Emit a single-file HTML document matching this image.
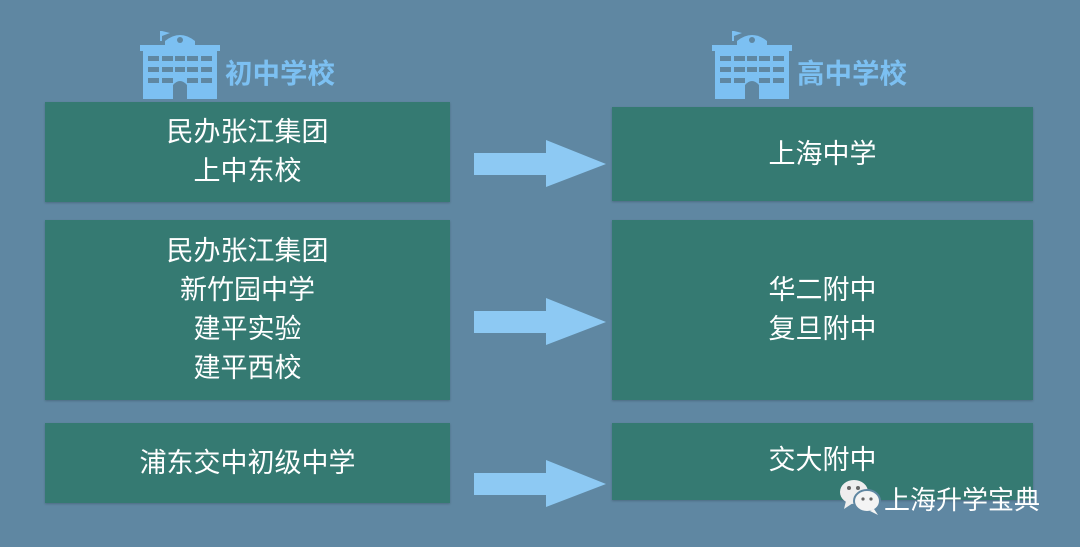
<!DOCTYPE html>
<html><head><meta charset="utf-8"><style>
body{margin:0;width:1080px;height:547px;background:#5f87a2;position:relative;overflow:hidden;font-family:"Liberation Sans","Noto Sans CJK SC",sans-serif}
.b{position:absolute;background:#357a72;color:#fff;font-size:27px;line-height:39px;display:flex;align-items:center;justify-content:center;text-align:center;box-shadow:0 1px 2px rgba(0,0,0,.2)}
.lbl{position:absolute;color:#7cc0f2;font-size:27.5px;font-weight:bold}
.ar{position:absolute}
</style></head><body>
<svg width="80" height="72" style="position:absolute;left:140px;top:27px" viewBox="0 0 80 72">
<g fill="#7cc0f2"><rect x="20" y="4" width="2" height="10"/><polygon points="22,4 30,6 22,9"/>
<path d="M25 14 Q40 2 55 14 L55 18 L25 18Z"/><rect x="0" y="18" width="80" height="6"/><rect x="3" y="24" width="74" height="48"/></g>
<g fill="#5f87a2"><circle cx="40" cy="13" r="3"/>
<rect x="8" y="29" width="11" height="5"/><rect x="22" y="29" width="11" height="5"/><rect x="47" y="29" width="11" height="5"/><rect x="61" y="29" width="11" height="5"/><rect x="35" y="29" width="10" height="5"/>
<rect x="8" y="40" width="11" height="5"/><rect x="22" y="40" width="11" height="5"/><rect x="35" y="40" width="10" height="5"/><rect x="47" y="40" width="11" height="5"/><rect x="61" y="40" width="11" height="5"/>
<rect x="8" y="51" width="11" height="5"/><rect x="22" y="51" width="11" height="5"/><rect x="47" y="51" width="11" height="5"/><rect x="61" y="51" width="11" height="5"/>
<path d="M33 72 L33 58 Q40 50 47 58 L47 72Z"/></g></svg>
<div class="lbl" style="left:225px;top:51px">初中学校</div>
<svg width="80" height="72" style="position:absolute;left:712px;top:27px" viewBox="0 0 80 72">
<g fill="#7cc0f2"><rect x="20" y="4" width="2" height="10"/><polygon points="22,4 30,6 22,9"/>
<path d="M25 14 Q40 2 55 14 L55 18 L25 18Z"/><rect x="0" y="18" width="80" height="6"/><rect x="3" y="24" width="74" height="48"/></g>
<g fill="#5f87a2"><circle cx="40" cy="13" r="3"/>
<rect x="8" y="29" width="11" height="5"/><rect x="22" y="29" width="11" height="5"/><rect x="47" y="29" width="11" height="5"/><rect x="61" y="29" width="11" height="5"/><rect x="35" y="29" width="10" height="5"/>
<rect x="8" y="40" width="11" height="5"/><rect x="22" y="40" width="11" height="5"/><rect x="35" y="40" width="10" height="5"/><rect x="47" y="40" width="11" height="5"/><rect x="61" y="40" width="11" height="5"/>
<rect x="8" y="51" width="11" height="5"/><rect x="22" y="51" width="11" height="5"/><rect x="47" y="51" width="11" height="5"/><rect x="61" y="51" width="11" height="5"/>
<path d="M33 72 L33 58 Q40 50 47 58 L47 72Z"/></g></svg>
<div class="lbl" style="left:797px;top:51px">高中学校</div>

<div class="b" style="left:45px;top:102px;width:405px;height:100px">民办张江集团<br>上中东校</div>
<div class="b" style="left:45px;top:220px;width:405px;height:180px">民办张江集团<br>新竹园中学<br>建平实验<br>建平西校</div>
<div class="b" style="left:45px;top:423px;width:405px;height:80px">浦东交中初级中学</div>
<div class="b" style="left:612px;top:107px;width:421px;height:94px">上海中学</div>
<div class="b" style="left:612px;top:220px;width:421px;height:180px">华二附中<br>复旦附中</div>
<div class="b" style="left:612px;top:423px;width:421px;height:77px;align-items:flex-start;padding-top:18px;box-sizing:border-box">交大附中</div>

<svg class="ar" style="left:474px;top:140px" width="134" height="48"><polygon points="0,13 72,13 72,0 132,24 72,47 72,35 0,35" fill="#8dc9f3"/></svg>
<svg class="ar" style="left:474px;top:298px" width="134" height="48"><polygon points="0,13 72,13 72,0 132,24 72,47 72,35 0,35" fill="#8dc9f3"/></svg>
<svg class="ar" style="left:474px;top:460px" width="134" height="48"><polygon points="0,13 72,13 72,0 132,24 72,47 72,35 0,35" fill="#8dc9f3"/></svg>

<svg style="position:absolute;left:838px;top:477px" width="46" height="40">
<ellipse cx="16" cy="15" rx="14" ry="12" fill="#eee"/><polygon points="8,24 6,32 15,26" fill="#eee"/>
<ellipse cx="29" cy="24" rx="13" ry="11" fill="#f4f4f4" stroke="#5f87a2" stroke-width="2"/><polygon points="36,32 40,38 32,34" fill="#f4f4f4"/>
<circle cx="11" cy="11" r="2" fill="#666"/><circle cx="20" cy="11" r="2" fill="#666"/><circle cx="25" cy="22" r="1.6" fill="#666"/><circle cx="33" cy="22" r="1.6" fill="#666"/></svg>
<div style="position:absolute;left:884px;top:480px;color:#fff;font-size:26px">上海升学宝典</div>
</body></html>
